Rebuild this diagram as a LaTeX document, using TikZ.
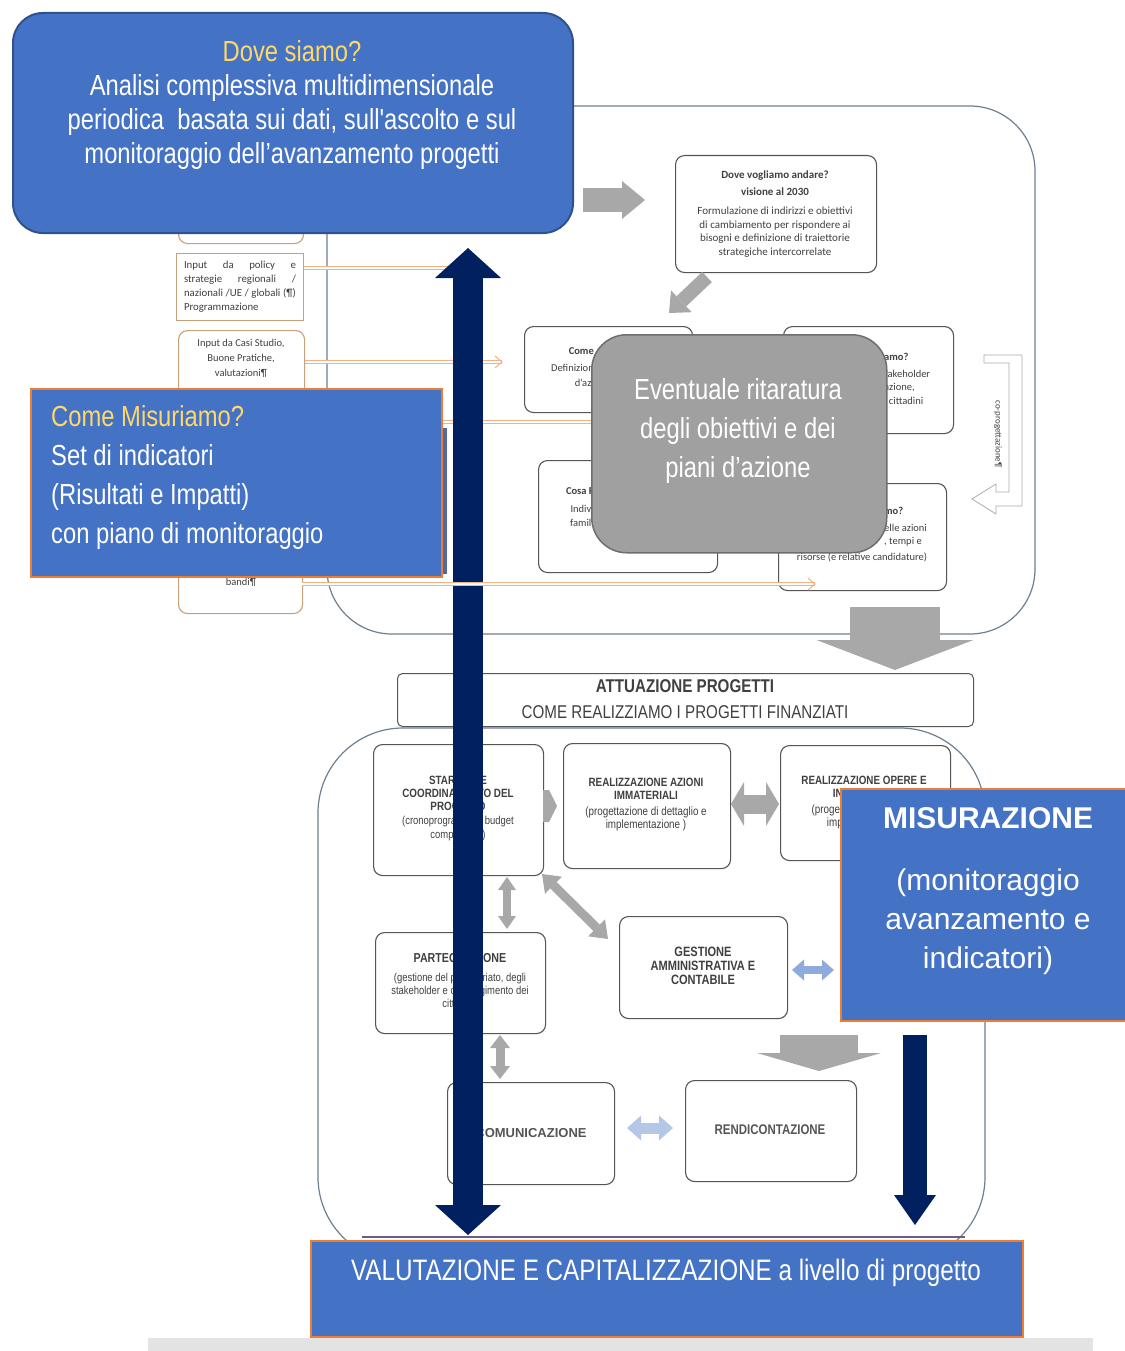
\documentclass[tikz,border=0pt]{standalone}
\usepackage{fontspec}
\setmainfont{Liberation Sans}
\newfontfamily\nar[FakeStretch=0.82]{Liberation Sans}
\newfontfamily\calfont{Carlito}
\usetikzlibrary{arrows.meta}
\definecolor{cBlue}{HTML}{4472C4}
\definecolor{cBdark}{HTML}{2F528F}
\definecolor{cOrange}{HTML}{ED7D31}
\definecolor{cGold}{HTML}{FFD966}
\definecolor{cNavy}{HTML}{002060}
\definecolor{cGarrow}{HTML}{A8A8A8}
\definecolor{cGbox}{HTML}{A0A0A0}
\definecolor{cGboxb}{HTML}{6E6E6E}
\definecolor{cBline}{HTML}{555555}
\definecolor{cOut}{HTML}{6E7F8F}
\definecolor{cTan}{HTML}{C9A07C}
\definecolor{cSalmon}{HTML}{F4B183}
\definecolor{cTxt}{HTML}{404040}
\definecolor{cLblue}{HTML}{B4C7E7}
\definecolor{cMblue}{HTML}{8FAADC}
\newcommand\myfz[2]{\fontsize{#1}{#2}\selectfont}
\begin{document}
\begin{tikzpicture}[x=1pt,y=-1pt,
  sbox/.style={draw=cBline, line width=1.1pt, rounded corners=9pt, fill=white, anchor=north west, inner sep=0pt},
  lbox/.style={draw=cTan, line width=1.1pt, rounded corners=9pt, fill=white, anchor=north west, inner sep=0pt},
  bbox/.style={fill=cBlue, draw=cOrange, line width=2pt, anchor=north west, inner sep=0pt},
  txt/.style={inner sep=0pt, align=center, text=cTxt},
  wtxt/.style={inner sep=0pt, align=center, text=white},
  oline/.style={draw=cSalmon, double=white, double distance=1.4pt, line width=0.9pt},
  ochev/.style={draw=cSalmon, line width=1pt},
  blockarr/.style={draw=cGarrow},
]
\useasboundingbox (0,0) rectangle (1124,1351);
\fill[white] (0,0) rectangle (1124,1351);

% large background frames
\draw[cOut, line width=1.2pt, fill=white, rounded corners=65pt] (327,106) rectangle (1035,634);
\draw[cOut, line width=1.2pt, fill=white, rounded corners=85pt] (318,728) rectangle (985,1262);

% orange input lines
\coordinate (o1a) at (303,268); \coordinate (o1b) at (448,268);
\coordinate (o2a) at (304,362); \coordinate (o2b) at (502,362);
\coordinate (o3a) at (441,422); \coordinate (o3b) at (592,422);
\draw[oline] (o1a) -- (o1b);
\draw[oline] (o2a) -- (o2b);
\draw[ochev] (495,356) -- (502,362) -- (495,368);
\draw[oline] (o3a) -- (o3b);

% left input boxes
\node[lbox, minimum width=125, minimum height=53] (lb1) at (178,190) {};
\node[lbox, rounded corners=0pt, minimum width=127, minimum height=67] (lb2) at (176,253) {};
\node[txt, align=left, font=\calfont\myfz{10.8}{14}] (lb2t) at (240,286.5)
  {\makebox[112pt][s]{Input da policy e}\\\makebox[112pt][s]{strategie regionali /}\\\makebox[112pt][s]{nazionali /UE / globali (¶)}\\Programmazione};
\node[lbox, minimum width=126, minimum height=70] (lb3) at (178,330) {};
\node[txt, font=\calfont\myfz{10.5}{15}] (lb3t) at (241,358) {Input da Casi Studio,\\Buone Pratiche,\\valutazioni¶};
\node[lbox, minimum width=124, minimum height=73] (lb5) at (178,540) {};
\node[txt, font=\calfont\myfz{10.5}{13}] (lb5t) at (241,582) {bandi¶};

% top region boxes
\node[sbox, minimum width=201, minimum height=117] (vis) at (675,155) {};
\node[txt, font=\calfont\bfseries\myfz{11}{17}] (vist) at (775,183) {Dove vogliamo andare?\\visione al 2030};
\node[txt, font=\calfont\myfz{11}{13.7}] (visb) at (775,232) {Formulazione di indirizzi e obiettivi\\di cambiamento per rispondere ai\\bisogni e definizione di traiettorie\\strategiche intercorrelate};

\node[sbox, minimum width=168, minimum height=86] (bA) at (524,326) {};
\node[txt, anchor=east, font=\calfont\bfseries\myfz{10.5}{12}] (bA1) at (594,351) {Come};
\node[txt, anchor=east, font=\calfont\myfz{10.5}{12}] (bA2) at (594,368) {Definizion};
\node[txt, anchor=east, font=\calfont\myfz{10.5}{12}] (bA3) at (594,383) {d’azi};

\node[sbox, minimum width=170, minimum height=107] (bB) at (783,326) {};
\node[txt, anchor=west, font=\calfont\bfseries\myfz{10.5}{12}] (bB1) at (884,357) {amo?};
\node[txt, anchor=west, font=\calfont\myfz{10.5}{12}] (bB2) at (884,374) {takeholder};
\node[txt, anchor=west, font=\calfont\myfz{10.5}{12}] (bB3) at (884,388) {azione,};
\node[txt, anchor=west, font=\calfont\myfz{10.5}{12}] (bB4) at (884,401) {i cittadini};

\node[sbox, minimum width=179, minimum height=112] (bC) at (538,460) {};
\node[txt, anchor=east, font=\calfont\bfseries\myfz{10.5}{12}] (bC1) at (594,491) {Cosa F};
\node[txt, anchor=east, font=\calfont\myfz{10.5}{12}] (bC2) at (594,509) {Indivi};
\node[txt, anchor=east, font=\calfont\myfz{10.5}{12}] (bC3) at (594,523) {famili};

\node[sbox, minimum width=168, minimum height=107] (bD) at (778,483) {};
\node[txt, anchor=west, font=\calfont\bfseries\myfz{10.5}{12}] (bD1) at (884,511) {mo?};
\node[txt, anchor=west, font=\calfont\myfz{10.5}{12}] (bD2) at (884,528) {elle azioni};
\node[txt, anchor=west, font=\calfont\myfz{10.5}{12}] (bD3) at (884,542) {, tempi e};
\node[txt, font=\calfont\myfz{10.5}{12}] (bD4) at (862,557) {risorse (e relative candidature)};

% co-progettazione U-turn arrow
\draw[draw=gray!65, line width=0.8pt, fill=white] (984,355) -- (1022,355) -- (1022,506) -- (996,506) -- (996,514) -- (972,499) -- (996,484) -- (996,492) -- (1009,492) -- (1009,363) -- (984,363) -- cycle;
\node[txt, rotate=-90, font=\calfont\myfz{9}{10}] (cop) at (998,434) {co-progettazione¶};

% top grey arrows
\coordinate (ga1s) at (583,200); \coordinate (ga1e) at (645,200);
\draw[blockarr, line width=24pt, -{Triangle[width=38pt,length=23pt,line width=0pt]}] (ga1s) -- (ga1e);
\coordinate (ga2s) at (707,277); \coordinate (ga2e) at (669,313);
\draw[blockarr, line width=14pt, -{Triangle[width=30pt,length=17pt,line width=0pt]}] (ga2s) -- (ga2e);

% grey recalibration box
\node[draw=cGboxb, fill=cGbox, line width=1.5pt, rounded corners=35pt, anchor=north west, minimum width=295, minimum height=218, inner sep=0pt] (ritar) at (591,334) {};
\node[wtxt, font=\nar\myfz{29}{39}] (ritart) at (738,431) {Eventuale ritaratura\\degli obiettivi e dei\\piani d’azione};

% big grey arrow down to ATTUAZIONE
\coordinate (ga3s) at (895,607); \coordinate (ga3e) at (895,670);
\draw[blockarr, line width=90pt, -{Triangle[width=157pt,length=30pt,line width=0pt]}] (ga3s) -- (ga3e);

% ATTUAZIONE header
\node[sbox, rounded corners=5pt, line width=1pt, minimum width=576, minimum height=53] (att) at (397,673) {};
\node[txt, font=\nar\bfseries\myfz{18.5}{20}] (att1) at (685,686) {ATTUAZIONE PROGETTI};
\node[txt, font=\nar\myfz{18.5}{20}] (att2) at (685,712) {COME REALIZZIAMO I PROGETTI FINANZIATI};

% lower process boxes
\node[sbox, minimum width=170, minimum height=131] (start) at (373,744) {};
\node[txt, font=\nar\bfseries\myfz{12}{13}] (startt) at (458,793) {START UP E\\COORDINAMENTO DEL\\PROGETTO};
\node[txt, font=\nar\myfz{11.5}{14}] (startb) at (458,829) {(cronoprogramma,~ budget\\complessivo)};

\node[sbox, minimum width=167, minimum height=125] (realiz) at (563,743) {};
\node[txt, font=\nar\bfseries\myfz{12}{13}] (realizt) at (646,788.5) {REALIZZAZIONE AZIONI\\IMMATERIALI};
\node[txt, font=\nar\myfz{12}{13}] (realizb) at (646,818.5) {(progettazione di dettaglio e\\implementazione )};

\node[sbox, minimum width=170, minimum height=115] (opere) at (780,745) {};
\node[txt, font=\nar\bfseries\myfz{12}{13}] (opere1) at (864,780) {REALIZZAZIONE OPERE E};
\node[txt, anchor=east, font=\nar\bfseries\myfz{12}{13}] (opere2) at (843,793) {IN};
\node[txt, anchor=east, font=\nar\myfz{12}{13}] (opere3) at (843,810) {(proget};
\node[txt, anchor=east, font=\nar\myfz{12}{13}] (opere4) at (843,823) {imp};

\node[sbox, minimum width=170, minimum height=101] (partec) at (375,932) {};
\node[txt, font=\nar\bfseries\myfz{13}{14}] (partect) at (460,958) {PARTECIPAZIONE};
\node[txt, font=\nar\myfz{11.5}{13}] (partecb) at (460,992) {(gestione del partenariato, degli\\stakeholder e coinvolgimento dei\\cittadini)};

\node[sbox, minimum width=168, minimum height=102] (gest) at (619,916) {};
\node[txt, font=\nar\bfseries\myfz{13.5}{14}] (gestt) at (703,966) {GESTIONE\\AMMINISTRATIVA E\\CONTABILE};

\node[sbox, minimum width=167, minimum height=102] (comun) at (447,1082) {};
\node[txt, text=cBline, font=\bfseries\myfz{13}{14}] (comunt) at (531,1133) {COMUNICAZIONE};

\node[sbox, minimum width=171, minimum height=101] (rendic) at (685,1080) {};
\node[txt, text=cBline, font=\nar\bfseries\myfz{14}{15}] (rendict) at (770,1130) {RENDICONTAZIONE};

% lower grey / blue arrows
\fill[cGarrow] (543,790) -- (549,790) -- (557,806) -- (549,822) -- (543,822) -- cycle;
\coordinate (h1a) at (731,804); \coordinate (h1b) at (779,804);
\draw[blockarr, line width=19pt, {Triangle[width=44pt,length=13pt,line width=0pt]}-{Triangle[width=44pt,length=13pt,line width=0pt]}] (h1a) -- (h1b);
\coordinate (v1a) at (507,877); \coordinate (v1b) at (507,929);
\draw[blockarr, line width=8pt, {Triangle[width=18pt,length=13pt,line width=0pt]}-{Triangle[width=18pt,length=13pt,line width=0pt]}] (v1a) -- (v1b);
\coordinate (d1a) at (542,874); \coordinate (d1b) at (608,939);
\draw[blockarr, line width=9pt, {Triangle[width=24pt,length=16pt,line width=0pt]}-{Triangle[width=24pt,length=16pt,line width=0pt]}] (d1a) -- (d1b);
\coordinate (v2a) at (500,1035); \coordinate (v2b) at (500,1079);
\draw[blockarr, line width=9pt, {Triangle[width=20pt,length=13pt,line width=0pt]}-{Triangle[width=20pt,length=13pt,line width=0pt]}] (v2a) -- (v2b);
\coordinate (b1a) at (792,970); \coordinate (b1b) at (834,970);
\draw[draw=cMblue, line width=8pt, {Triangle[width=21pt,length=12pt,line width=0pt]}-{Triangle[width=21pt,length=12pt,line width=0pt]}] (b1a) -- (b1b);
\coordinate (b2a) at (627,1128); \coordinate (b2b) at (673,1128);
\draw[draw=cLblue, line width=11pt, {Triangle[width=25pt,length=14pt,line width=0pt]}-{Triangle[width=25pt,length=14pt,line width=0pt]}] (b2a) -- (b2b);
\coordinate (ga4s) at (819,1035); \coordinate (ga4e) at (819,1071);
\draw[blockarr, line width=78pt, -{Triangle[width=124pt,length=18pt,line width=0pt]}] (ga4s) -- (ga4e);

% thin strip above the evaluation box
\draw[draw=cOut!70!violet, line width=2pt] (362,1237) -- (965,1237);

% blue boxes
\node[fill=cBlue, draw=cBdark, line width=2pt, rounded corners=30pt, anchor=north west, minimum width=560, minimum height=220, inner sep=0pt] (dove) at (12,12) {};
\node[wtxt, font=\nar\myfz{29}{33.7}] (dovet) at (292,105) {{\color{cGold}Dove siamo?}\\Analisi complessiva multidimensionale\\periodica~ basata sui dati, sull'ascolto e sul\\monitoraggio dell’avanzamento progetti};

\fill[cBdark!85] (442,428) rectangle (447,574);
\node[bbox, minimum width=411, minimum height=188] (misur) at (30,388) {};
\node[wtxt, align=left, anchor=west, font=\nar\myfz{29}{39}] (misurt) at (51,477.5) {{\color{cGold}Come Misuriamo?}\\Set di indicatori\\(Risultati e Impatti)\\con piano di monitoraggio};

\node[bbox, minimum width=290, minimum height=232] (mis2) at (840,788) {};
\node[wtxt, font=\bfseries\myfz{30}{34}] (mis2a) at (988,818) {MISURAZIONE};
\node[wtxt, font=\myfz{30}{39}] (mis2b) at (988,922) {(monitoraggio\\avanzamento e\\indicatori)};

\node[bbox, minimum width=712, minimum height=96] (valut) at (310,1240) {};
\node[wtxt, font=\nar\myfz{29.6}{33}] (valutt) at (666,1273) {VALUTAZIONE E CAPITALIZZAZIONE a livello di progetto};

% navy arrows
\coordinate (navT) at (468,248); \coordinate (navB) at (468,1235);
\draw[draw=cNavy, line width=30pt, {Triangle[width=66pt,length=30pt,line width=0pt]}-{Triangle[width=66pt,length=30pt,line width=0pt]}] (navT) -- (navB);
\coordinate (nav2T) at (915,1035); \coordinate (nav2B) at (915,1225);
\draw[draw=cNavy, line width=24pt, -{Triangle[width=42pt,length=30pt,line width=0pt]}] (nav2T) -- (nav2B);

% bottom input line drawn over the navy arrow
\coordinate (o4a) at (302,584); \coordinate (o4b) at (815,584);
\draw[oline] (o4a) -- (o4b);
\draw[ochev] (808,578) -- (815,584) -- (808,590);

% page foot bar
\fill[gray!22] (148,1338) rectangle (1093,1351);
\end{tikzpicture}
\end{document}
